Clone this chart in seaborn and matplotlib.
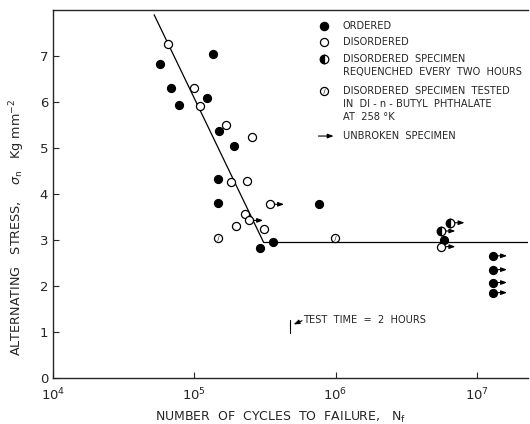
import numpy as np
import pandas as pd
import matplotlib.pyplot as plt
import seaborn as sns

# ======================
# DATA
# ======================
ord_n = [5.7e4, 6.9e4, 7.8e4, 1.36e5, 1.24e5, 1.5e5, 1.91e5, 1.48e5, 1.48e5, 2.9e5, 3.6e5, 7.6e5, 5.9e6]
ord_s = [6.84, 6.30, 5.93, 7.04, 6.10, 5.37, 5.04, 4.33, 3.80, 2.84, 2.95, 3.78, 3.00]

ord_ub_n = [1.3e7, 1.3e7, 1.3e7, 1.3e7]
ord_ub_s = [2.66, 2.36, 2.08, 1.86]

dis_n = [6.5e4, 1.0e5, 1.1e5, 1.68e5, 2.57e5, 1.82e5, 2.36e5, 2.3e5, 1.98e5, 3.1e5]
dis_s = [7.26, 6.31, 5.92, 5.50, 5.24, 4.27, 4.29, 3.57, 3.30, 3.25]

dis_ub_n = [3.43e5, 2.44e5, 5.6e6]
dis_ub_s = [3.78, 3.43, 2.86]

req_n = [5.6e6, 6.5e6]
req_s = [3.20, 3.38]

dbp_n = [1.48e5, 9.9e5]
dbp_s = [3.05, 3.05]

fit_n = [5.2e4, 3.1e5, 2.3e7]
fit_s = [7.9, 2.95, 2.95]

legend_lines = ["ORDERED", "DISORDERED", "DISORDERED  SPECIMEN\nREQUENCHED  EVERY  TWO  HOURS",
                "DISORDERED  SPECIMEN  TESTED\nIN  DI - n - BUTYL  PHTHALATE\nAT  258 \u00b0K",
                "UNBROKEN  SPECIMEN"]
legend_y = [0.957, 0.913, 0.867, 0.780, 0.658]

# ======================
# PLOT
# ======================
sns.set_style("ticks")
plt.rcParams['font.family'] = ['DejaVu Sans']

fig = plt.figure(figsize=(5.3, 4.24), dpi=100)
ax = fig.add_axes([0.1, 0.108, 0.896, 0.868])

arrow = dict(arrowstyle='-|>,head_length=0.35,head_width=0.13', color='black', lw=0.8,
             shrinkA=0, shrinkB=0)

sns.lineplot(x=fit_n, y=fit_s, color='black', lw=0.9, ax=ax, sort=False)

ms = 34
sns.scatterplot(x=ord_n + ord_ub_n, y=ord_s + ord_ub_s, color='black', s=ms,
                edgecolor='black', linewidth=0.8, ax=ax, zorder=3)
sns.scatterplot(x=dis_n + dis_ub_n, y=dis_s + dis_ub_s, color='white', s=ms,
                edgecolor='black', linewidth=0.9, ax=ax, zorder=3)
ax.plot(req_n, req_s, 'o', ms=6.2, fillstyle='left', markerfacecolor='black',
        markerfacecoloralt='white', markeredgecolor='black', mew=0.9, zorder=3)
sns.scatterplot(x=dbp_n, y=dbp_s, color='white', s=ms, edgecolor='black',
                linewidth=0.9, ax=ax, zorder=3)
sns.scatterplot(x=dbp_n, y=dbp_s, marker=r'$/$', color='black', s=14, linewidth=0, ax=ax, zorder=4)

# unbroken arrows
for n, s in zip(ord_ub_n + dis_ub_n + req_n, ord_ub_s + dis_ub_s + req_s):
    ax.annotate('', xy=(n * 1.26, s), xytext=(n * 1.08, s), arrowprops=arrow)

# test time marker
ax.plot([4.8e5, 4.8e5], [0.98, 1.27], color='black', lw=0.8)
ax.annotate('', xy=(5.05e5, 1.17), xytext=(5.8e5, 1.25), arrowprops=arrow)
ax.text(5.9e5, 1.27, "TEST  TIME  =  2  HOURS", fontsize=7.1, va='center', ha='left')

# legend (hand drawn as in the original)
lx_m, lx_t = 0.571, 0.610
ax.scatter([lx_m], [legend_y[0]], transform=ax.transAxes, s=ms, color='black', zorder=5)
ax.scatter([lx_m], [legend_y[1]], transform=ax.transAxes, s=ms, color='white', edgecolor='black', lw=0.9, zorder=5)
ax.plot([lx_m], [legend_y[2]], 'o', transform=ax.transAxes, ms=6.2, fillstyle='left', markerfacecolor='black',
        markerfacecoloralt='white', markeredgecolor='black', mew=0.9, zorder=5)
ax.scatter([lx_m], [legend_y[3]], transform=ax.transAxes, s=ms, color='white', edgecolor='black', lw=0.9, zorder=5)
ax.scatter([lx_m], [legend_y[3]], transform=ax.transAxes, s=14, marker=r'$/$', color='black', lw=0, zorder=6)
ax.annotate('', xy=(lx_m + 0.02, legend_y[4]), xytext=(lx_m - 0.012, legend_y[4]), xycoords='axes fraction',
            arrowprops=arrow)
for yy, txt in zip(legend_y, legend_lines):
    ax.text(lx_t, yy + 0.014, txt, transform=ax.transAxes, fontsize=7.1, va='top', ha='left',
            linespacing=1.35)

ax.set_xscale('log')
ax.set_xlim(1e4, 2.3e7)
ax.set_ylim(0, 8)
ax.set_xticks([1e4, 1e5, 1e6, 1e7])
ax.set_xticklabels([r'$10^4$', r'$10^5$', r'$10^6$', r'$10^7$'])
ax.xaxis.set_minor_locator(plt.NullLocator())
ax.set_yticks(range(0, 8))
ax.tick_params(direction='in', length=4, width=0.8, labelsize=9.5)
ax.tick_params(axis='x', pad=6)

sns.despine(ax=ax, right=True, top=False)
for sp in ['left', 'bottom', 'top']:
    ax.spines[sp].set_linewidth(1.0)

ax.set_xlabel(r"NUMBER  OF  CYCLES  TO  FAILURE,   N$_{\rm f}$", fontsize=9, labelpad=5)
ax.set_ylabel(r"ALTERNATING   STRESS,    $\sigma_{\rm n}$   Kg mm$^{-2}$", fontsize=9.2)
ax.xaxis.set_label_coords(0.48, -0.085)
ax.yaxis.set_label_coords(-0.055, 0.41)

fig.savefig("out.png", dpi=100)
